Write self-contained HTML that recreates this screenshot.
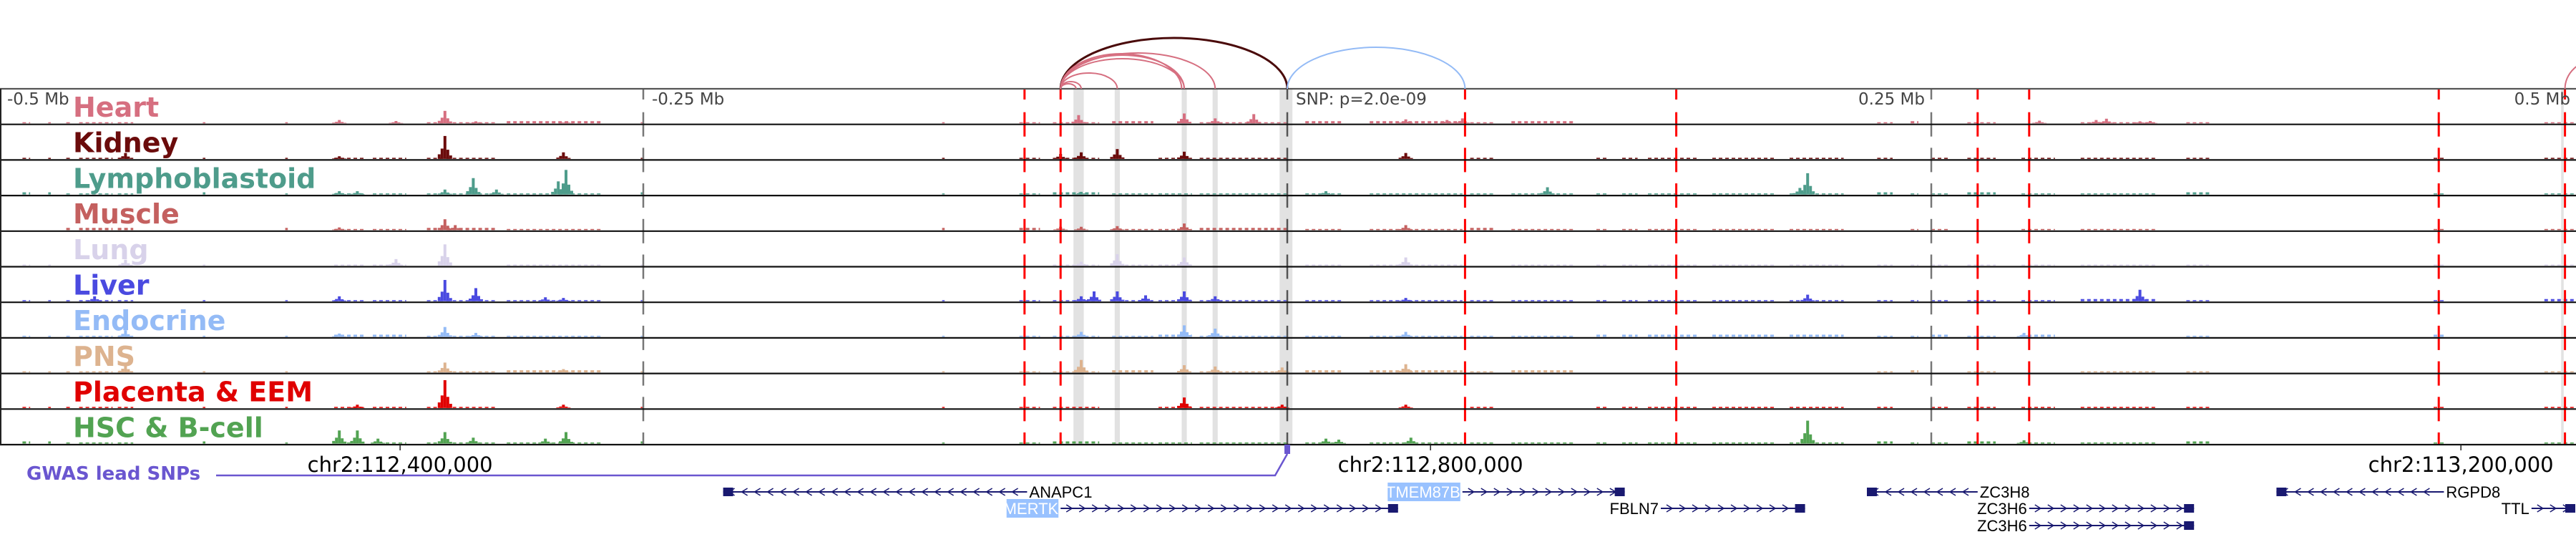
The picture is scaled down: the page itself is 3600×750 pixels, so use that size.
<!DOCTYPE html>
<html><head><meta charset="utf-8">
<style>
html,body{margin:0;padding:0;background:#fff;width:3600px;height:750px;overflow:hidden}
svg{display:block}
</style></head>
<body>
<svg id="chart" width="3600" height="750" xmlns="http://www.w3.org/2000/svg" font-family="'DejaVu Sans','Liberation Sans',sans-serif"></svg>
<script>
// ---------- data ----------
const trackNames = ["Heart","Kidney","Lymphoblastoid","Muscle","Lung","Liver","Endocrine","PNS","Placenta & EEM","HSC & B-cell"];
const trackColors = ["#d66f80","#6b0b0b","#4e9c8b","#c4605f","#d8d2ea","#4a4ae0","#94bbf6","#ddb38f","#e00000","#52a352"];
// common low-signal segments (kb from lead SNP)
const noiseStarts = [-491,-481,-474,-469,-454,-421,-389,-370,-355,-334,-303,-251,-134,-104,-91,-68,-50,-34,7,32,71,87,120,130,140,165,195,229,242,250,264,285,308,349,445,488];
const noiseEnds   = [-488,-480,-472,-456,-448,-420,-388,-358,-342,-307,-266,-250,-133,-96,-73,-52,-37,1,22,68,81,111,124,136,160,190,216,235,245,257,275,298,337,358,449,500];
// peaks per track: positions (kb) and heights (fraction of track)
const peakPos = [
 [-327,-368,-346,-315,-280,-81,-40,-28,-13,46,62,68,292,314,318,331,335],
 [-327,-281,-451,-368,-80,-66,-40,46,-88],
 [-316,-280,-283,-307,-327,-368,-361,101,15,-80,202,199],
 [-327,-323,-368,-40,46,-80,-66,-88],
 [-327,-346,-451,-66,-40,46,-80],
 [-327,-315,-368,-463,-288,-281,-75,-80,-66,-55,-40,-28,46,331,202],
 [-327,-315,-368,-451,-40,-28,-80,46,286],
 [-327,-281,-451,-80,-40,-28,46,-2],
 [-327,-281,-361,-40,-2,46],
 [-368,-361,-353,-327,-316,-280,-288,15,20,48,202,286]
];
const peakVal = [
 [0.38,0.1,0.07,0.06,0.05,0.25,0.3,0.15,0.28,0.12,0.1,0.15,0.08,0.1,0.14,0.06,0.07],
 [0.7,0.2,0.18,0.08,0.2,0.3,0.22,0.18,0.15],
 [0.5,0.75,0.4,0.15,0.15,0.1,0.1,0.22,0.1,0.08,0.65,0.2],
 [0.33,0.15,0.08,0.2,0.15,0.1,0.12,0.1],
 [0.65,0.2,0.18,0.35,0.25,0.25,0.12],
 [0.65,0.4,0.15,0.15,0.12,0.1,0.3,0.15,0.3,0.18,0.3,0.15,0.1,0.35,0.2],
 [0.3,0.12,0.1,0.2,0.35,0.25,0.15,0.15,0.12],
 [0.3,0.1,0.25,0.38,0.22,0.18,0.25,0.15],
 [0.85,0.1,0.1,0.32,0.1,0.1],
 [0.4,0.4,0.15,0.35,0.18,0.35,0.15,0.15,0.12,0.18,0.7,0.1]
];
const highlightStarts = [-83,-67,-41,-29,-3,494.5];
const highlightEnds   = [-79,-65,-39,-27,2,495.5];
const redLines = [-102,-88,69,151,268,288,447,496];
const mbTicks = [-0.25,0,0.25];
const mbLabels = ["-0.5 Mb","-0.25 Mb","SNP: p=2.0e-09","0.25 Mb","0.5 Mb"];
const coordTicks = [112.4,112.8,113.2];
const coordLabels = ["chr2:112,400,000","chr2:112,800,000","chr2:113,200,000"];
const snpMb = 112.7444;
// arcs (kb anchors) and heights
const arcStart = [-88,-88,-88,-88,-88,-88,-88,-88,0,496];
const arcEnd   = [0,-66,-40,-40,-41,-28,-80,-82,69,520];
const arcPeak  = [71,22,42,47,49,50,10,7,58,40];
const arcColor = ["#4a0a0a","#d66f80","#d66f80","#d66f80","#d66f80","#d66f80","#d66f80","#d66f80","#94bbf6","#d66f80"];
// genes
const geneNames = ["ANAPC1","MERTK","TMEM87B","FBLN7","ZC3H8","ZC3H6","ZC3H6","RGPD8","TTL"];
const geneStart = [-219,-88,68,145,225,288,288,384,483];
const geneEnd   = [-101,43,131,201,268,352,352,449,500];
const geneRow   = [0,1,0,1,0,1,2,0,1];
const geneStrand= [-1,1,1,1,-1,1,1,-1,1];
const geneHighlight=[false,true,true,false,false,false,false,false,false];
const geneLabelSide=["right","left","left","left","right","left","left","right","left"];

// ---------- scales ----------
const X0=1799, PXKB=3.6;
const xk = kb => X0 + kb*PXKB;
const TOP=124, TH=49.7, NT=10, BOT=TOP+TH*NT;
const ty = i => TOP + i*TH;
const svg=document.getElementById('chart');
const NS="http://www.w3.org/2000/svg";
function mk(tag,attrs,parent){const e=document.createElementNS(NS,tag);for(const k in attrs)e.setAttribute(k,attrs[k]);(parent||svg).appendChild(e);return e;}

// highlights
for(let i=0;i<highlightStarts.length;i++){
  const r=mk('rect',{x:xk(highlightStarts[i]),y:TOP,width:(highlightEnds[i]-highlightStarts[i])*PXKB,height:BOT-TOP,fill:'#e2e2e2'});
  
  
}
// signals
for(let t=0;t<NT;t++){
  const g=mk('g',{});
  
  
  const base=ty(t+1)-1.5, col=trackColors[t];
  for(let s=0;s<noiseStarts.length;s++){
    const a=xk(noiseStarts[s]), b=xk(noiseEnds[s]);
    for(let x=a;x<b;x+=9){
      const v=Math.round(x*7+t*13)%7;
      if(v===0) continue;
      const h=v<2?3:1.5;
      const r=mk('rect',{x:x,y:base-h,width:Math.min(5,b-x),height:h,fill:col},g);
      
      
    }
  }
  for(let p=0;p<peakPos[t].length;p++){
    const x=xk(peakPos[t][p]), h=peakVal[t][p]*(TH-4);
    const parts=[[-8,0.2,4],[-4,0.45,4],[0,1,4],[4,0.4,4],[8,0.15,4]];
    for(const q of parts){
      const r=mk('rect',{x:x+q[0]-2,y:base-h*q[1],width:q[2],height:h*q[1],fill:col},g);
      
      
    }
  }
}
// dashed vertical lines
function dashedLine(x,color,w,name){
  const g=mk('g',{});
  
  
  mk('rect',{x:x-w/2,y:TOP,width:w,height:15,fill:color},g);
  for(let k=1;k<=NT;k++){
    const y0=ty(k)-17, y1=Math.min(ty(k)+17,BOT);
    mk('rect',{x:x-w/2,y:y0,width:w,height:y1-y0,fill:color},g);
  }
}
for(const m of mbTicks){ dashedLine(xk(m*1000), m===0?'#555':'#777', 2.5, m===0?'snp-line':'mb-gridline'); }
for(const r of redLines){ dashedLine(xk(r),'#ff0000',3,'enhancer-line'); }
// track borders
for(let k=0;k<=NT;k++){
  const l=mk('line',{x1:0,x2:3600,y1:ty(k),y2:ty(k),stroke:k===0?'#555':'#111','stroke-width':2.2});
  
  
}
const lb=mk('line',{x1:1,x2:1,y1:TOP,y2:BOT,stroke:'#222','stroke-width':2});


// track labels
for(let t=0;t<NT;t++){
  const tx=mk('text',{x:102,y:ty(t)+39,fill:trackColors[t],'font-size':38,'font-weight':'bold'});
  tx.textContent=trackNames[t];
  
  
}
// mb labels
const mbLabelX=[10,911,1811,2690,3592], mbAnchor=['start','start','start','end','end'];
for(let i=0;i<mbLabels.length;i++){
  const tx=mk('text',{x:mbLabelX[i],y:146,fill:'#444','font-size':23,'text-anchor':mbAnchor[i]});
  tx.textContent=mbLabels[i];
  
  
}
// arcs
for(let i=0;i<arcStart.length;i++){
  const a=xk(arcStart[i]), b=xk(arcEnd[i]), rx=Math.abs(b-a)/2, ry=arcPeak[i];
  const p=mk('path',{d:`M${a},${TOP} A${rx},${ry} 0 0 1 ${b},${TOP}`,fill:'none',stroke:arcColor[i],'stroke-width':i===0?3:2});
  
  
}
// coordinate ticks
for(let i=0;i<coordTicks.length;i++){
  const x=X0+(coordTicks[i]-snpMb)*3600;
  mk('line',{x1:x,x2:x,y1:BOT,y2:BOT+8,stroke:'#222','stroke-width':1.5});
  const tx=mk('text',{x:x,y:659,'font-size':29,'text-anchor':'middle',fill:'#000'});
  tx.textContent=coordLabels[i];
  
  
}
// GWAS
const gl=mk('text',{x:37,y:670,'font-size':26,'font-weight':'bold',fill:'#6a56d0'});
gl.textContent='GWAS lead SNPs';


const gp=mk('path',{d:`M302,664 L${X0-17},664 L${X0},634`,fill:'none',stroke:'#6a56d0','stroke-width':2.5});


const gm=mk('rect',{x:X0-4,y:BOT,width:8,height:13,fill:'#6a56d0'});


// genes
const rowY=[687,710,734];
for(let i=0;i<geneNames.length;i++){
  const g=mk('g',{});
  
  
  const a=xk(geneStart[i]), b=xk(geneEnd[i]), y=rowY[geneRow[i]];
  mk('line',{x1:a,x2:b,y1:y,y2:y,stroke:'#191970','stroke-width':2},g);
  let d='';
  const s=geneStrand[i];
  for(let x=a+12;x<b-8;x+=18){
    d+=`M${x-4*s},${y-5} L${x+4*s},${y} L${x-4*s},${y+5} `;
  }
  mk('path',{d:d,fill:'none',stroke:'#191970','stroke-width':1.5},g);
  const ex = s>0? b-14 : a;
  mk('rect',{x:ex,y:y-6,width:14,height:12,fill:'#191970'},g);
  const left=geneLabelSide[i]==='left';
  const lx= left? a-3 : b+3;
  if(geneHighlight[i]){
    const w=geneNames[i].length*14.5;
    mk('rect',{x:lx-w,y:y-13,width:w,height:26,fill:'#99c2ff'},g);
  }
  const tx=mk('text',{x:lx,y:y+8,'font-size':22,'text-anchor':left?'end':'start',fill:geneHighlight[i]?'#fff':'#000','font-family':"'Liberation Sans',sans-serif"},g);
  tx.textContent=geneNames[i];
}
</script>
</body></html>
